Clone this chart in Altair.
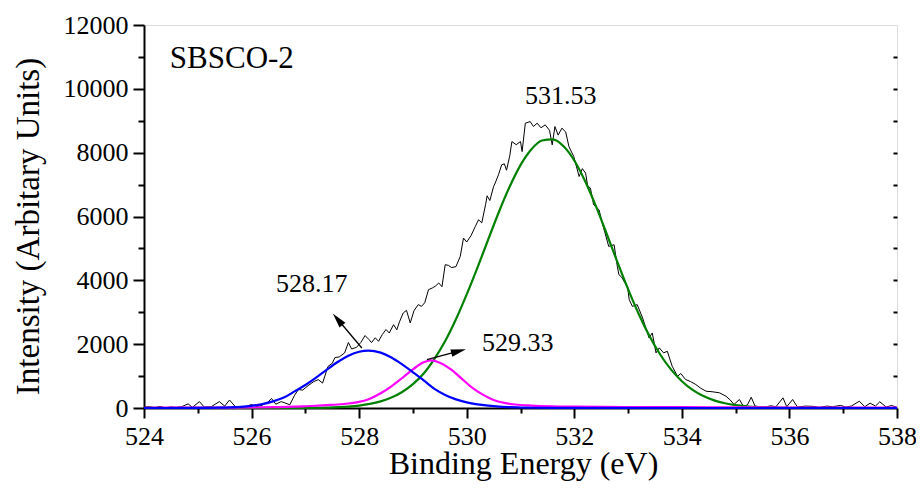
import altair as alt
import pandas as pd

FONT = "Liberation Serif"

# ---- measured spectrum (binding energy, counts) ----
spec_e = [524.00, 524.10, 524.20, 524.30, 524.40, 524.50, 524.60, 524.70, 524.82, 524.90,
          525.03, 525.12, 525.25, 525.40, 525.50, 525.59, 525.70, 525.80, 525.90, 526.00,
          526.10, 526.20, 526.30, 526.37, 526.45, 526.55, 526.62, 526.71, 526.80, 526.87,
          526.95, 527.05, 527.15, 527.24, 527.32, 527.42, 527.50, 527.55, 527.63, 527.73,
          527.80, 527.86, 527.95, 528.03, 528.11, 528.18, 528.23, 528.30, 528.36, 528.43,
          528.50, 528.56, 528.64, 528.70, 528.75, 528.82, 528.88, 528.95, 529.02, 529.10,
          529.16, 529.22, 529.29, 529.36, 529.42, 529.48, 529.54, 529.60, 529.66, 529.72,
          529.80, 529.88, 529.94, 530.00, 530.08, 530.16, 530.22, 530.28, 530.35, 530.38,
          530.43, 530.50, 530.53, 530.59, 530.65, 530.70, 530.74, 530.80, 530.84, 530.92,
          531.00, 531.03, 531.09, 531.18, 531.24, 531.31, 531.38, 531.46, 531.54, 531.59,
          531.64, 531.70, 531.77, 531.84, 531.90, 531.99, 532.09, 532.15, 532.21, 532.25,
          532.30, 532.36, 532.46, 532.52, 532.64, 532.74, 532.80, 532.83, 532.88, 532.95,
          532.99, 533.02, 533.08, 533.17, 533.27, 533.39, 533.45, 533.52, 533.58, 533.66,
          533.73, 533.82, 533.92, 533.98, 534.07, 534.16, 534.26, 534.35, 534.45, 534.56,
          534.70, 534.82, 534.90, 534.97, 535.07, 535.15, 535.22, 535.29, 535.36, 535.45,
          535.55, 535.65, 535.75, 535.88, 535.95, 536.06, 536.15, 536.30, 536.45, 536.55,
          536.70, 536.80, 536.95, 537.05, 537.15, 537.30, 537.40, 537.50, 537.60, 537.68,
          537.80, 537.90, 538.00]
spec_i = [30, 40, 20, 45, 10, 35, 20, 40, 130, 20,
          200, 30, 40, 200, 60, 250, 40, 30, 50, 110,
          40, 90, 180, 300, 120, 200, 160, 100, 400, 580,
          560, 700, 820, 890, 780, 1300, 1400, 1580, 1600, 1727,
          2050, 1850, 1900, 2050, 2270, 2150, 2050, 2200, 2090, 2300,
          2460, 2350, 2610, 2450, 2700, 2978, 3060, 2666, 3050, 3240,
          3185, 3300, 3708, 3760, 3820, 3917, 3800, 4490, 4470, 4400,
          4430, 4750, 5325, 5200, 5400, 5689, 5898, 5800, 6368, 6650,
          6500, 6940, 7050, 7306, 7619, 7650, 7450, 7900, 8348, 8250,
          8348, 8035, 8924, 8974, 8820, 8924, 8780, 8871, 8700, 8245,
          8818, 8550, 8767, 8650, 8192, 7879, 7253, 7500, 7360, 6950,
          6890, 6368, 6211, 5800, 5063, 5116, 4437, 4177, 4100, 3900,
          3811, 3400, 3185, 3239, 2822, 2196, 2350, 1727, 1884, 1727,
          1777, 1308, 995, 1080, 892, 830, 735, 620, 526, 510,
          476, 369, 250, 110, 266, 40, 100, 338, 60, 40,
          30, 70, 40, 319, 40, 266, 30, 60, 50, 20,
          60, 40, 80, 30, 60, 213, 40, 150, 60, 194,
          30, 80, 20]

# ---- fitted components ----
green_e = [524.0, 527.0, 527.4, 527.8, 528.0, 528.2, 528.4, 528.6, 528.8, 529.0, 529.2,
           529.4, 529.6, 529.8, 530.0, 530.2, 530.4, 530.6, 530.8, 531.0, 531.2, 531.4,
           531.6, 531.8, 532.0, 532.2, 532.4, 532.6, 532.8, 533.0, 533.2, 533.4, 533.6,
           533.8, 534.0, 534.2, 534.4, 534.6, 534.8, 535.0, 535.2, 535.4, 535.6, 535.8,
           536.0, 538.0]
green_i = [0, 4, 13, 44, 76, 128, 208, 328, 503, 749, 1082,
           1540, 2100, 2780, 3560, 4400, 5280, 6150, 6940, 7610, 8100, 8380,
           8414, 8201, 7755, 7114, 6332, 5468, 4581, 3724, 2937, 2247, 1668,
           1201, 840, 569, 374, 239, 148, 89, 52, 29, 16, 9,
           5, 0]

blue_e = [524.0, 525.0, 525.4, 525.6, 525.8, 526.0, 526.2, 526.4, 526.6, 526.8, 527.0,
          527.2, 527.4, 527.6, 527.8, 528.0, 528.17, 528.4, 528.6, 528.8, 529.0, 529.2,
          529.4, 529.6, 529.8, 530.0, 530.2, 530.4, 530.6, 530.8, 531.0, 531.2, 531.6,
          538.0]
blue_i = [0, 2, 9, 19, 37, 69, 123, 206, 327, 520, 720,
          950, 1200, 1440, 1637, 1764, 1800, 1735, 1584, 1368, 1118, 864,
          600, 410, 270, 175, 115, 75, 45, 28, 16, 8, 2,
          0]

mag_e = [524.0, 525.0, 526.0, 526.4, 526.8, 527.0, 527.2, 527.4, 527.6, 527.8, 528.0,
         528.2, 528.4, 528.6, 528.8, 529.0, 529.2, 529.33, 529.5, 529.7, 529.9, 530.1,
         530.3, 530.5, 530.7, 530.9, 531.2, 531.6, 532.0, 533.0, 534.0, 535.0, 536.0,
         538.0]
mag_i = [8, 10, 15, 25, 40, 55, 70, 90, 110, 140, 190,
         290, 460, 680, 940, 1210, 1430, 1490, 1420, 1220, 930, 640,
         420, 250, 160, 110, 75, 50, 40, 30, 25, 20, 15,
         10]

# ---- annotations ----
label_text = ["531.53", "528.17", "529.33"]
label_e = [531.75, 527.12, 530.95]
label_i = [9527, 3619, 1772]

sample_text = ["SBSCO-2"]
sample_e = [524.48]
sample_i = [10645]

arrow_e1 = [528.05, 529.26]
arrow_i1 = [1879, 1512]
arrow_e2 = [527.60, 529.85]
arrow_i2 = [2780, 1782]
arrow_ang = [320.4, 75.0]

x_major = [524, 526, 528, 530, 532, 534, 536, 538]
x_minor = [525, 527, 529, 531, 533, 535, 537]
y_major = [0, 2000, 4000, 6000, 8000, 10000, 12000]
y_minor = [1000, 3000, 5000, 7000, 9000, 11000]
y_right = [1000, 2000, 3000, 4000, 5000, 6000, 7000, 8000, 9000, 10000, 11000]

W, H = 753, 383
XDOM = [524, 538]
YDOM = [0, 12000]


def xs(field="E", axis=None):
    return alt.X(f"{field}:Q", scale=alt.Scale(domain=XDOM, nice=False, zero=False), axis=axis)


def ys(field="I", axis=None):
    return alt.Y(f"{field}:Q", scale=alt.Scale(domain=YDOM, nice=False, zero=False), axis=axis)


ax_x_major = alt.Axis(values=x_major, orient="bottom", format="d", tickSize=10, tickWidth=2,
                      tickColor="black", domainColor="black", domainWidth=2, grid=False,
                      labelFont=FONT, labelFontSize=26, labelColor="black", labelPadding=5,
                      labelFlush=False, labelOverlap=False,
                      title="Binding Energy (eV)", titleFont=FONT, titleFontSize=32,
                      titleFontWeight="normal", titleColor="black",
                      titleX=379, titleY=65, titleBaseline="alphabetic")
ax_y_major = alt.Axis(values=y_major, orient="left", format="d", tickSize=11, tickWidth=2,
                      tickColor="black", domainColor="black", domainWidth=2, grid=False,
                      labelFont=FONT, labelFontSize=26, labelColor="black", labelPadding=5,
                      labelFlush=False, labelOverlap=False,
                      title="Intensity (Arbitary Units)", titleFont=FONT, titleFontSize=33,
                      titleFontWeight="normal", titleColor="black", titleAngle=270,
                      titleX=-106, titleY=201, titleBaseline="alphabetic")
ax_x_minor = alt.Axis(values=x_minor, orient="bottom", tickSize=5, tickWidth=2, tickColor="black",
                      domain=False, labels=False, grid=False, title="")
ax_y_minor = alt.Axis(values=y_minor, orient="left", tickSize=6, tickWidth=2, tickColor="black",
                      domain=False, labels=False, grid=False, title="")
ax_y_right = alt.Axis(values=y_right, orient="left", offset=-W, tickSize=4, tickWidth=2,
                      tickColor="black", domain=False, labels=False, grid=False, title="")

spec_df = pd.DataFrame({"E": spec_e, "I": spec_i})
green_df = pd.DataFrame({"E": green_e, "I": green_i})
blue_df = pd.DataFrame({"E": blue_e, "I": blue_i})
mag_df = pd.DataFrame({"E": mag_e, "I": mag_i})
lab_df = pd.DataFrame({"E": label_e, "I": label_i, "t": label_text})
samp_df = pd.DataFrame({"E": sample_e, "I": sample_i, "t": sample_text})
arr_df = pd.DataFrame({"E": arrow_e1, "I": arrow_i1, "E2": arrow_e2, "I2": arrow_i2, "a": arrow_ang})

spec = alt.Chart(spec_df).mark_line(color="black", strokeWidth=1).encode(
    x=xs(axis=ax_x_major), y=ys(axis=ax_y_major), order="E:Q")
green = alt.Chart(green_df).mark_line(color="#008000", strokeWidth=2.2, interpolate="monotone").encode(
    x=xs(axis=ax_x_minor), y=ys(axis=ax_y_minor), order="E:Q")
mag = alt.Chart(mag_df).mark_line(color="#FF00FF", strokeWidth=2.2, interpolate="monotone").encode(
    x=xs(), y=ys(axis=ax_y_right), order="E:Q")
blue = alt.Chart(blue_df).mark_line(color="#0000FF", strokeWidth=2.2, interpolate="monotone").encode(
    x=xs(), y=ys(), order="E:Q")

arrows = alt.Chart(arr_df).mark_rule(color="black", strokeWidth=1.3).encode(
    x=xs(), y=ys(), x2="E2:Q", y2="I2:Q")
heads = alt.Chart(arr_df).mark_point(shape="M0,-1L0.5,1L-0.5,1Z", filled=True, color="black",
                                     size=230, opacity=1, strokeWidth=0).encode(
    x=xs("E2"), y=ys("I2"), angle=alt.Angle("a:Q", scale=None))

labels = alt.Chart(lab_df).mark_text(font=FONT, fontSize=26, color="black", align="center",
                                     baseline="alphabetic").encode(x=xs(), y=ys(), text="t:N")
sample = alt.Chart(samp_df).mark_text(font=FONT, fontSize=31, color="black", align="left",
                                      baseline="alphabetic").encode(x=xs(), y=ys(), text="t:N")

chart = alt.layer(spec, green, mag, blue, arrows, heads, labels, sample).resolve_scale(
    x="independent", y="independent").resolve_axis(x="independent", y="independent").properties(
    width=W, height=H,
    autosize=alt.AutoSizeParams(type="none"),
    padding={"left": 136, "top": 17, "right": 19, "bottom": 78},
).configure_view(stroke="black", strokeWidth=2).configure(background="white").configure_axis(
    labelFont=FONT, labelFontSize=26, labelColor="black", titleFont=FONT)

chart.save("out.html", embed_options={"renderer": "svg", "actions": False})
